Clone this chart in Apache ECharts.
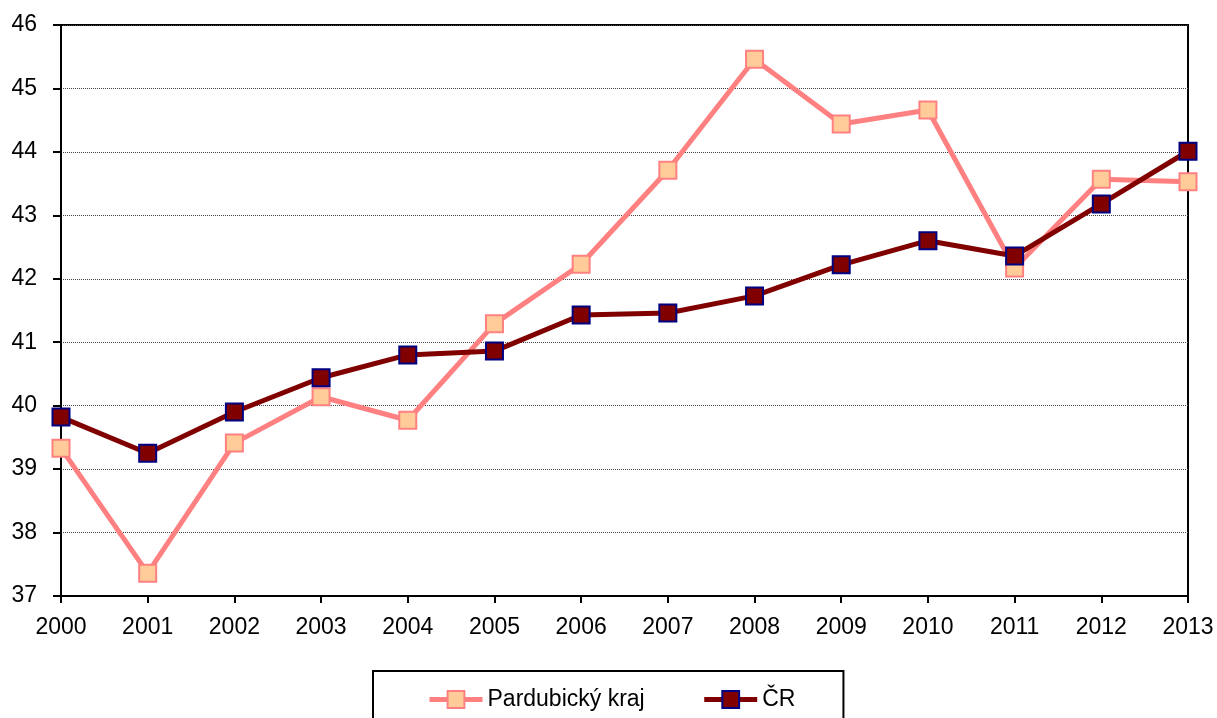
<!DOCTYPE html>
<html lang="cs">

<head>
    <meta charset="UTF-8">
    <title>Pardubický kraj a ČR</title>
    <style>
        html, body { margin: 0; padding: 0; background: #fff; }
    </style>
</head>

<body>
    <div id="main" style="width: 1217px; height: 718px"></div>
    <script src="https://cdn.jsdelivr.net/npm/echarts@6/dist/echarts.min.js"></script>
    <script type="text/javascript">
        var years = ['2000', '2001', '2002', '2003', '2004', '2005', '2006', '2007', '2008', '2009', '2010', '2011', '2012', '2013'];
        var pardubice = [39.33, 37.36, 39.41, 40.14, 39.77, 41.29, 42.23, 43.71, 45.46, 44.44, 44.66, 42.17, 43.57, 43.53];
        var cr = [39.82, 39.25, 39.90, 40.44, 40.80, 40.86, 41.43, 41.46, 41.73, 42.22, 42.60, 42.36, 43.18, 44.01];

        var font = '"Liberation Sans Narrow", "Arial Narrow", "Liberation Sans", Arial, sans-serif';

        var myChart = echarts.init(document.getElementById('main'));

        var option = {
            animation: false,
            textStyle: { fontFamily: font },
            grid: {
                left: 61,
                right: 29,
                top: 25,
                bottom: 122,
                show: true,
                borderColor: '#000',
                borderWidth: 2
            },
            legend: {
                left: 373,
                top: 671,
                padding: [17, 48, 22, 54],
                itemWidth: 53,
                itemHeight: 21,
                itemGap: 57,
                borderColor: '#000',
                borderWidth: 2,
                lineStyle: { width: 5 },
                textStyle: { fontSize: 23, color: '#000', fontFamily: font },
                data: ['Pardubický kraj', 'ČR']
            },
            xAxis: {
                type: 'category',
                boundaryGap: false,
                data: years,
                axisLine: { lineStyle: { color: '#000', width: 2 } },
                axisTick: { show: true, length: 7, lineStyle: { color: '#000', width: 2 } },
                axisLabel: { fontSize: 23, color: '#000', margin: 20, fontFamily: font },
                splitLine: { show: false }
            },
            yAxis: {
                type: 'value',
                min: 37,
                max: 46,
                interval: 1,
                axisLine: { show: true, lineStyle: { color: '#000', width: 2 } },
                axisTick: { show: true, length: 8, lineStyle: { color: '#000', width: 2 } },
                axisLabel: { fontSize: 23, color: '#000', margin: 24, fontFamily: font },
                splitLine: { show: true, lineStyle: { color: '#444', width: 1, type: [1, 1] } }
            },
            series: [{
                name: 'Pardubický kraj',
                type: 'line',
                data: pardubice,
                symbol: 'rect',
                symbolSize: 17,
                lineStyle: { color: '#FF8080', width: 5 },
                itemStyle: { color: '#FFCC99', borderColor: '#FF8080', borderWidth: 2 }
            }, {
                name: 'ČR',
                type: 'line',
                data: cr,
                symbol: 'rect',
                symbolSize: 17,
                lineStyle: { color: '#800000', width: 5 },
                itemStyle: { color: '#800000', borderColor: '#000080', borderWidth: 2 }
            }]
        };
        myChart.setOption(option);
    </script>

</body>

</html>
